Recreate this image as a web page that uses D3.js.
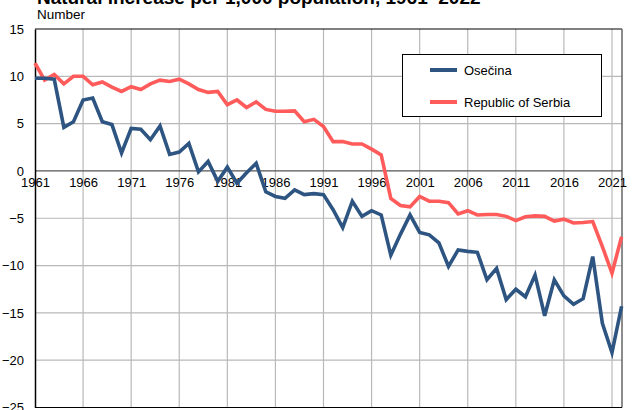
<!DOCTYPE html>
<html>
<head>
<meta charset="utf-8">
<script src="https://cdn.jsdelivr.net/npm/d3@7"></script>
<style>
  html, body { margin: 0; padding: 0; background: #fff; }
  svg { display: block; font-family: "Liberation Sans", Arial, sans-serif; }
</style>
</head>
<body>
<svg id="chart" width="632" height="410"></svg>
<script>
// Natural increase per 1,000 population, 1961–2022
const years = d3.range(1961, 2023);
const osecina = [
  9.8, 9.8, 9.7, 4.6, 5.2, 7.5, 7.7, 5.2, 4.9, 1.9,
  4.5, 4.4, 3.3, 4.75, 1.75, 2.0, 2.9, -0.1, 1.0, -1.1,
  0.4, -1.3, -0.2, 0.8, -2.2, -2.7, -2.9, -2.0, -2.5, -2.4,
  -2.5, -4.1, -6.0, -3.2, -4.8, -4.2, -4.65, -8.9, -6.7, -4.65,
  -6.5, -6.75, -7.6, -10.1, -8.35, -8.5, -8.6, -11.5, -10.3, -13.6,
  -12.5, -13.3, -11.0, -15.3, -11.5, -13.2, -14.1, -13.5, -9.05, -16.1,
  -19.2, -14.3
];
const serbia = [
  11.4, 9.6, 10.2, 9.2, 10.0, 10.0, 9.1, 9.4, 8.85, 8.4,
  8.9, 8.6, 9.2, 9.6, 9.45, 9.7, 9.2, 8.6, 8.3, 8.4,
  7.0, 7.5, 6.7, 7.3, 6.5, 6.3, 6.3, 6.35, 5.2, 5.45,
  4.7, 3.1, 3.1, 2.85, 2.85, 2.3, 1.7, -2.9, -3.65, -3.8,
  -2.7, -3.2, -3.2, -3.35, -4.55, -4.2, -4.65, -4.6, -4.6, -4.8,
  -5.25, -4.85, -4.75, -4.8, -5.3, -5.1, -5.5, -5.45, -5.35, -8.0,
  -10.8, -6.95
];
const yTicks = [15, 10, 5, 0, -5, -10, -15, -20, -25];
const xTicks = [1961, 1966, 1971, 1976, 1981, 1986, 1991, 1996, 2001, 2006, 2011, 2016, 2021];
const seriesNames = ["Osečina", "Republic of Serbia"];
const seriesColors = ["#2e5582", "#ff5b5b"];

const svg = d3.select("#chart");
const plotL = 35, plotT = 29, plotR = 622, plotB = 407.5;

const x = d3.scaleLinear().domain([1961, 2022]).range([plotL, plotR - 0.4]);
const y = d3.scaleLinear().domain([-25, 15]).range([plotB, plotT]);

// Title (partly above the frame) and unit label
svg.append("text").attr("x", 37).attr("y", 3.5)
  .attr("font-size", 19).attr("font-weight", "bold").attr("fill", "#000")
  .text("Natural increase per 1,000 population, 1961–2022");
svg.append("text").attr("x", 37).attr("y", 19)
  .attr("font-size", 13.5).attr("fill", "#000").text("Number");

// Grid
const grid = svg.append("g");
grid.selectAll("line.h").data(yTicks.filter(d => d !== 0 && d !== 15 && d !== -25)).join("line")
  .attr("class", "h")
  .attr("x1", plotL).attr("x2", plotR).attr("y1", d => y(d)).attr("y2", d => y(d))
  .attr("stroke", "#b9b9b9").attr("stroke-width", 1.2);
grid.selectAll("line.v").data(xTicks.slice(1)).join("line")
  .attr("class", "v")
  .attr("y1", plotT).attr("y2", plotB).attr("x1", d => x(d)).attr("x2", d => x(d))
  .attr("stroke", "#b9b9b9").attr("stroke-width", 1.2);

// Frame
svg.append("line").attr("x1", plotL).attr("x2", plotR).attr("y1", plotT).attr("y2", plotT)
  .attr("stroke", "#000").attr("stroke-width", 1);
svg.append("line").attr("x1", plotR).attr("x2", plotR).attr("y1", plotT).attr("y2", plotB)
  .attr("stroke", "#666").attr("stroke-width", 1.5);
svg.append("line").attr("x1", plotL).attr("x2", plotR).attr("y1", plotB).attr("y2", plotB)
  .attr("stroke", "#000").attr("stroke-width", 1);
// Zero line
svg.append("line").attr("x1", plotL).attr("x2", plotR).attr("y1", y(0)).attr("y2", y(0))
  .attr("stroke", "#555").attr("stroke-width", 1.3);

// Y axis
const yAxis = svg.append("g").attr("transform", `translate(${plotL},0)`)
  .call(d3.axisLeft(y).tickValues(yTicks).tickSize(0).tickPadding(11).tickFormat(d3.format("d")));
yAxis.select(".domain").attr("stroke", "#000").attr("stroke-width", 1.5);
yAxis.selectAll("text").attr("font-size", 13).attr("fill", "#000")
  .attr("font-family", "Liberation Sans, Arial, sans-serif");

// X axis labels sitting below the zero line
const xAxis = svg.append("g").attr("transform", `translate(0,${y(0)})`)
  .call(d3.axisBottom(x).tickValues(xTicks).tickSize(0).tickPadding(7).tickFormat(d3.format("d")));
xAxis.select(".domain").remove();
xAxis.selectAll("text").attr("font-size", 13).attr("fill", "#000")
  .attr("font-family", "Liberation Sans, Arial, sans-serif");

// Lines
const line = d3.line().x((d, i) => x(years[i])).y(d => y(d));
[[serbia, 1], [osecina, 0]].forEach(([s, idx]) => {
  svg.append("path").datum(s).attr("d", line)
    .attr("fill", "none").attr("stroke", seriesColors[idx])
    .attr("stroke-width", 3.6).attr("stroke-linejoin", "miter");
});

// Legend
const lg = svg.append("g");
lg.append("rect").attr("x", 402.5).attr("y", 54.5).attr("width", 199).attr("height", 62)
  .attr("fill", "#fff").attr("stroke", "#000").attr("stroke-width", 1);
seriesNames.forEach((name, i) => {
  const ly = 70 + i * 32;
  lg.append("line").attr("x1", 430).attr("x2", 457).attr("y1", ly).attr("y2", ly)
    .attr("stroke", seriesColors[i]).attr("stroke-width", 4);
  lg.append("text").attr("x", 464).attr("y", ly + 4.5).attr("font-size", 13)
    .attr("fill", "#000").text(name);
});
</script>
</body>
</html>
